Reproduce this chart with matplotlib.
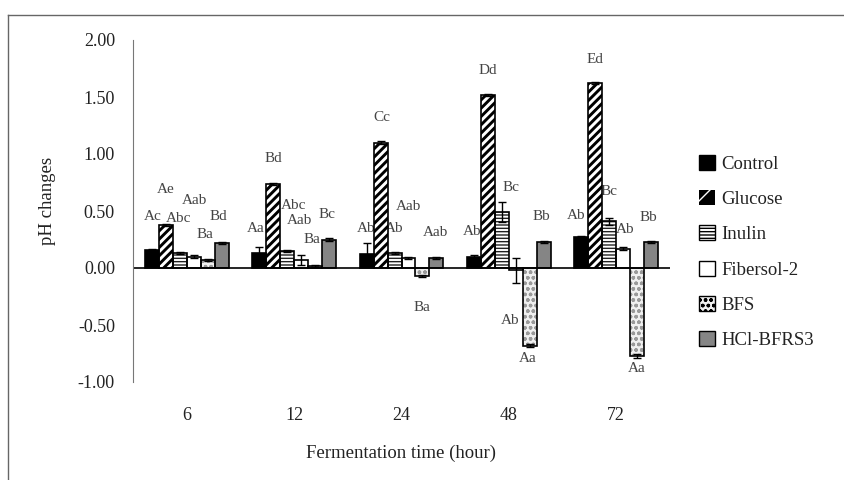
import numpy as np
import matplotlib
matplotlib.use('Agg')
import matplotlib.pyplot as plt
from matplotlib.patches import Patch
from matplotlib.lines import Line2D
from matplotlib.collections import LineCollection
from matplotlib.transforms import IdentityTransform

plt.rcParams['font.family'] = ['Liberation Serif', 'DejaVu Serif']

# data
times = ['6', '12', '24', '48', '72']
groups = ['Control', 'Glucose', 'Inulin', 'Fibersol-2', 'BFS', 'HCl-BFRS3']

control = [0.16, 0.13, 0.12, 0.10, 0.27]
glucose = [0.38, 0.74, 1.10, 1.52, 1.62]
inulin = [0.13, 0.15, 0.13, 0.49, 0.41]
fibersol = [0.10, 0.07, 0.09, -0.02, 0.17]
bfs = [0.07, 0.02, -0.07, -0.68, -0.77]
hcl = [0.22, 0.25, 0.09, 0.23, 0.23]

control_err = [0.01, 0.05, 0.10, 0.01, 0.01]
glucose_err = [0.01, 0.01, 0.01, 0.01, 0.01]
inulin_err = [0.01, 0.01, 0.01, 0.09, 0.03]
fibersol_err = [0.01, 0.04, 0.01, 0.11, 0.01]
bfs_err = [0.01, 0.01, 0.01, 0.01, 0.02]
hcl_err = [0.01, 0.01, 0.01, 0.01, 0.01]

# significance letters, one row per series
letters = [
    ['Ac', 'Aa', 'Ab', 'Ab', 'Ab'],
    ['Ae', 'Bd', 'Cc', 'Dd', 'Ed'],
    ['Abc', 'Abc', 'Ab', 'Bc', 'Bc'],
    ['Aab', 'Aab', 'Aab', 'Ab', 'Ab'],
    ['Ba', 'Ba', 'Ba', 'Aa', 'Aa'],
    ['Bd', 'Bc', 'Aab', 'Bb', 'Bb'],
]
# height where each letter sits (pH units)
letter_y = [
    [0.45, 0.35, 0.35, 0.32, 0.46],
    [0.69, 0.96, 1.32, 1.73, 1.83],
    [0.43, 0.55, 0.35, 0.71, 0.67],
    [0.59, 0.42, 0.54, -0.46, 0.34],
    [0.29, 0.25, -0.35, -0.79, -0.88],
    [0.45, 0.47, 0.31, 0.45, 0.44],
]
# small sideways nudges of the letters (pixels)
letter_dx = [
    [1, -3, 0, -2, -5],
    [0, 0, 1, 0, 0],
    [-1, 6, 0, 9, 0],
    [1, -2, 0, -6, 2],
    [-3, -3, 0, -2, -1],
    [-3, -2, -1, -2, -3],
]

values = [control, glucose, inulin, fibersol, bfs, hcl]
errors = [control_err, glucose_err, inulin_err, fibersol_err, bfs_err, hcl_err]

# fill styles: (face, hatch, hatch colour)
styles = [
    ('black', None, 'black'),
    ('white', None, 'black'),
    ('white', '-----', '#222222'),
    ('white', None, 'black'),
    ('#f0f0f0', 'ooo', '#9a9a9a'),
    ('#858585', None, 'black'),
]


def thick_stripes(ax, patch, fig_w=844, fig_h=480, step=8.3, lw=2.1):
    # heavy diagonal stripes, clipped to one bar
    starts = np.arange(-fig_h, fig_w, step)
    segs = [[(c, 0), (c + fig_h, fig_h)] for c in starts]
    lc = LineCollection(segs, colors='black', linewidths=lw, transform=IdentityTransform(),
                        zorder=2.05)
    ax.add_collection(lc, autolim=False)
    lc.set_clip_path(patch)


fig = plt.figure(figsize=(8.44, 4.8), dpi=100)
ax = fig.add_axes([133 / 844, 1 - 382 / 480, (670 - 133) / 844, (382 - 40) / 480])

x = np.arange(len(times))
w = 0.13

handles = []
for i, (vals, errs, st) in enumerate(zip(values, errors, styles)):
    face, hatch, hcol = st
    pos = x + (i - 2.5) * w
    b = ax.bar(pos, vals, w, color=face, hatch=hatch, edgecolor=hcol, linewidth=0, zorder=2)
    if i == 1:
        for p in b:
            thick_stripes(ax, p)
    ax.bar(pos, vals, w, fill=False, edgecolor='black', linewidth=1.2, zorder=2.1)
    ax.errorbar(pos, vals, yerr=errs, fmt='none', ecolor='black', elinewidth=1,
                capsize=3, capthick=1, zorder=3)
    for k in range(len(times)):
        ax.annotate(letters[i][k], (pos[k], letter_y[i][k]),
                    xytext=(letter_dx[i][k] * 0.72, 0), textcoords='offset points',
                    ha='center', va='center', fontsize=11, color='#444444', zorder=1)
    if i == 1:
        hp = Patch(facecolor='black', hatch='/', edgecolor='white', linewidth=0)
    else:
        hp = Patch(facecolor=face, hatch=hatch, edgecolor='black', linewidth=1)
    handles.append(hp)

ax.axhline(0, color='black', linewidth=1.2, zorder=2.5)
ax.set_xlim(-0.5, len(times) - 0.5)
ax.set_ylim(-1, 2)
ax.set_yticks([-1, -0.5, 0, 0.5, 1, 1.5, 2])
ax.set_yticklabels(['%.2f' % t for t in [-1, -0.5, 0, 0.5, 1, 1.5, 2]])
ax.set_xticks(x)
ax.set_xticklabels(times)
ax.tick_params(axis='y', length=0, pad=13, labelsize=13, labelcolor='#222222')
ax.tick_params(axis='x', length=0, pad=18, labelsize=13, labelcolor='#222222')
for s in ['top', 'right', 'bottom']:
    ax.spines[s].set_visible(False)
ax.spines['left'].set_color('#777777')

ax.set_xlabel('Fermentation time (hour)', fontsize=13.5, color='#222222', labelpad=15)
ax.set_ylabel('pH changes', fontsize=13.5, color='#222222')
ax.yaxis.set_label_coords(-0.143, 0.53)

leg = fig.legend(handles, groups, loc='upper left', bbox_to_anchor=(699 / 844, 1 - 155 / 480),
                 frameon=False, fontsize=13.5, handlelength=0.85, handleheight=0.85,
                 handletextpad=0.35, labelspacing=0.92, borderpad=0, borderaxespad=0)
for t in leg.get_texts():
    t.set_color('#222222')

# outer frame of the picture
fig.add_artist(Line2D([8 / 844, 1], [1 - 15 / 480, 1 - 15 / 480], color='#666666', lw=1))
fig.add_artist(Line2D([8 / 844, 8 / 844], [0, 1 - 15 / 480], color='#666666', lw=1))

fig.savefig('out.png', dpi=100)
